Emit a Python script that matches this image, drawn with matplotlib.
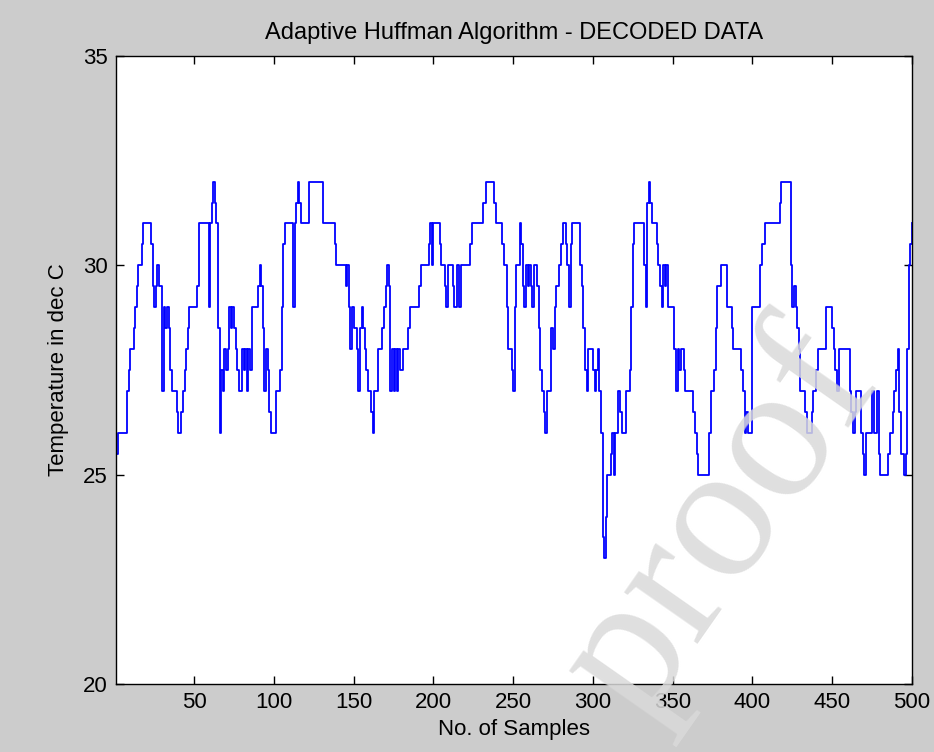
import numpy as np
import matplotlib
matplotlib.use("Agg")
import matplotlib.pyplot as plt

plt.rcParams['font.family'] = ['Liberation Sans', 'DejaVu Sans']

# Decoded temperature readings (deg C), read off the chart as runs:
# each level is held for the given number of consecutive samples.
temp_levels = [
    25.5, 26, 27, 27.5, 28, 28.5, 29, 29.5, 30, 30.5, 31,
    30.5, 29.5, 29, 29.5, 30, 29.5, 27, 29, 28.5, 29, 28.5, 27.5, 27, 26.5, 26, 26.5, 27, 27.5, 28, 28.5, 29, 29.5, 31,
    29, 31, 31.5, 32, 31.5, 31, 28.5, 26, 27.5, 27, 28, 27.5, 28, 29, 28.5, 29, 28.5, 28, 27.5, 27, 28, 27.5, 28, 27, 28, 27.5, 29, 29.5, 30, 29.5, 28.5, 27, 28, 27.5, 26.5, 26, 27, 27.5, 29, 30.5, 31,
    29, 31, 31.5, 32, 31.5, 31, 32, 31, 30.5, 30, 29.5, 30, 29, 28, 29, 28.5, 28, 27, 28.5, 29, 28.5, 28, 27.5, 27, 26.5, 26, 27, 28, 28.5, 29, 29.5, 30, 29.5, 27, 28, 27, 28, 27, 28, 27.5, 28, 28.5, 29,
    29.5, 30, 30.5, 31, 30, 31, 30.5, 30, 29.5, 29, 30, 29.5, 29, 30, 29, 30, 30.5, 31, 31.5, 32, 31.5, 31, 30.5, 30, 29, 28, 27.5, 27, 29, 30, 31,
    30.5, 29.5, 29, 30, 29.5, 30, 29.5, 29, 30, 29.5, 28.5, 27.5, 27, 26.5, 26, 27, 28.5, 28, 29, 29.5, 30, 30.5, 31, 30.5, 30, 29, 30.5, 31, 30, 29.5, 28.5, 27.5, 27, 28, 27.5, 27, 27.5, 28, 27, 26, 23.5, 23, 24, 25, 25.5, 26, 25, 26, 27, 26.5, 26, 27, 27.5, 29, 30.5, 31,
    30, 29, 31.5, 32, 31.5, 31, 30.5, 30, 29.5, 29, 30, 29.5, 30, 29, 28, 27, 28, 27.5, 28, 27.5, 27, 26.5, 26, 25.5, 25, 26, 27, 27.5, 28.5, 29.5, 30, 29, 28.5, 28, 27.5, 27, 26, 26.5, 26, 29, 30, 30.5, 31, 31.5, 32,
    30, 29, 29.5, 29, 28.5, 28, 27, 26.5, 26, 26.5, 27, 27.5, 28, 29, 28.5, 28, 27.5, 27, 28, 27, 26.5, 26, 26.5, 27, 26, 25.5, 25, 26, 27, 26, 27, 25.5, 25, 25.5, 26, 26.5, 27, 27.5, 28, 26.5, 25.5, 25, 25.5, 28, 30, 30.5, 31,
]
run_lengths = [
    1, 6, 1, 1, 2, 1, 1, 1, 2, 1, 5,
    1, 1, 1, 1, 1, 2, 1, 1, 1, 1, 1, 1, 3, 1, 2, 1, 1, 1, 1, 1, 5, 1, 6,
    1, 1, 1, 1, 1, 1, 1, 1, 1, 1, 1, 1, 1, 1, 1, 1, 1, 1, 1, 2, 1, 1, 1, 1, 1, 1, 4, 1, 1, 1, 1, 1, 1, 1, 1, 3, 3, 1, 1, 1, 5,
    1, 1, 1, 1, 1, 5, 9, 7, 1, 6, 1, 1, 1, 1, 1, 2, 1, 1, 1, 1, 1, 1, 1, 2, 1, 1, 2, 3, 1, 1, 1, 1, 1, 1, 1, 1, 1, 1, 1, 2, 3, 1, 6,
    1, 5, 1, 1, 1, 4, 1, 2, 1, 1, 3, 1, 2, 1, 1, 6, 1, 7, 2, 5, 1, 4, 1, 2, 1, 2, 1, 1, 1, 2, 1,
    1, 1, 1, 1, 1, 1, 1, 1, 2, 1, 1, 1, 1, 1, 1, 3, 1, 1, 1, 2, 1, 1, 2, 1, 1, 1, 1, 5, 1, 1, 1, 1, 1, 3, 1, 1, 1, 1, 1, 1, 1, 1, 1, 2, 1, 1, 1, 2, 1, 1, 3, 2, 1, 1, 1, 6,
    1, 1, 1, 1, 1, 3, 1, 1, 1, 1, 1, 1, 1, 4, 1, 1, 1, 1, 2, 1, 5, 1, 1, 1, 7, 1, 2, 1, 1, 2, 4, 3, 1, 5, 1, 1, 1, 1, 3, 5, 1, 2, 9, 1, 6,
    1, 1, 1, 1, 1, 1, 3, 1, 3, 1, 2, 1, 5, 4, 1, 1, 1, 1, 7, 1, 1, 1, 1, 3, 1, 1, 1, 4, 1, 2, 1, 1, 5, 1, 2, 1, 1, 1, 1, 1, 2, 1, 1, 1, 1, 1, 1,
]

temperature = np.repeat(temp_levels, run_lengths)
samples = np.arange(1, len(temperature) + 1)

x_ticks = [50, 100, 150, 200, 250, 300, 350, 400, 450, 500]
y_ticks = [20, 25, 30, 35]

W, H = 934, 752
fig = plt.figure(figsize=(W / 100, H / 100), dpi=100, facecolor='#cccccc')
ax = fig.add_axes([116 / W, 1 - 684 / H, (912 - 116) / W, (684 - 56) / H])
ax.set_facecolor('white')

ax.plot(samples, temperature, color='#0000ff', linewidth=1.3, drawstyle='steps-post')

ax.set_xlim(1, 500)
ax.set_ylim(20, 35)
ax.set_xticks(x_ticks)
ax.set_yticks(y_ticks)
ax.tick_params(direction='in', length=6, width=1, top=True, right=True,
               labelsize=16, pad=6, colors='black')
for sp in ax.spines.values():
    sp.set_linewidth(1.0)
    sp.set_color('black')

ax.set_title('Adaptive Huffman Algorithm - DECODED DATA', fontsize=17, pad=12)
ax.set_xlabel('No. of Samples', fontsize=16, labelpad=4)
ax.set_ylabel('Temperature in dec C', fontsize=16, labelpad=10)

# light "proof" watermark over the figure
fig.text(0.772, 0.305, 'proof', fontsize=140, family=['Liberation Serif', 'DejaVu Serif'],
         color='#dadada', alpha=0.85, rotation=55, ha='center', va='center', zorder=10)

fig.savefig('out.png', dpi=100, facecolor=fig.get_facecolor())
